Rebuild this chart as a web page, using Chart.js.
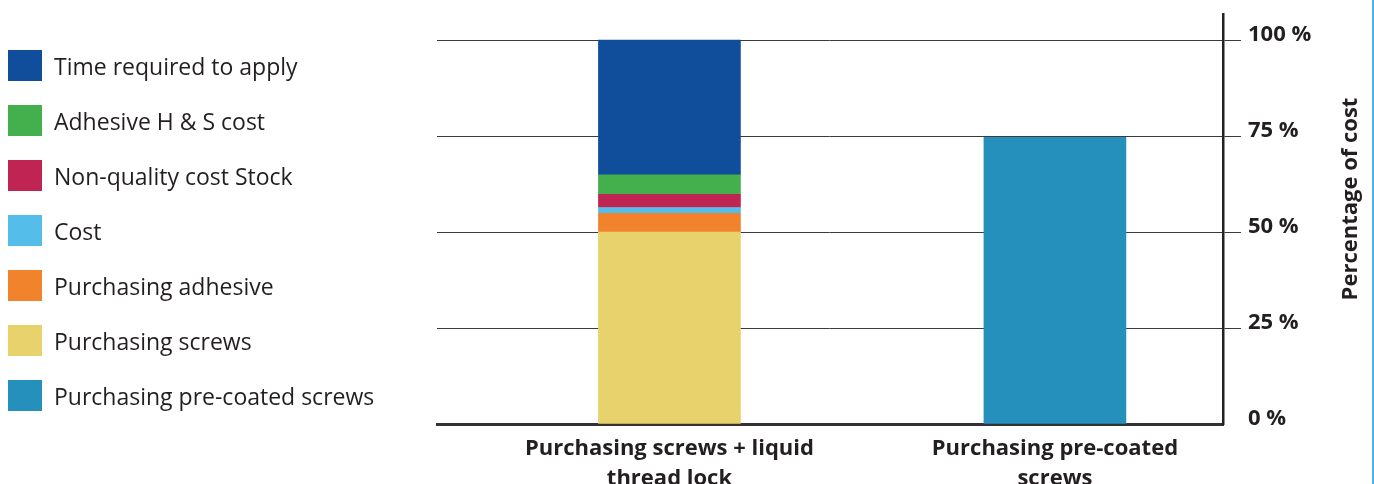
<!DOCTYPE html>
<html>
<head>
<meta charset="utf-8">
<title>Percentage of cost</title>
<script src="https://cdn.jsdelivr.net/npm/chart.js@4.4.1/dist/chart.umd.min.js"></script>
<style>
    html, body { margin: 0; padding: 0; background: #fff; }
    #wrap { position: relative; width: 1374px; height: 484px; overflow: hidden; }
    #chart { position: absolute; left: 0; top: 0; }
    #legend { position: absolute; left: 8px; top: 50px; margin: 0; padding: 0; list-style: none;
        font-family: 'Open Sans', sans-serif; font-size: 23px; color: #231f20; }
    #legend li { position: relative; height: 31px; line-height: 33px; margin-bottom: 24px;
        padding-left: 46px; white-space: nowrap; }
    #legend li span { position: absolute; left: 0; top: 0; width: 34px; height: 31px; }
    #edge { position: absolute; left: 1372px; top: 0; width: 2px; height: 484px; background: #4db3e2; }
</style>
</head>
<body>
<div id="wrap">
    <canvas id="chart" width="1374" height="484"></canvas>
    <ul id="legend"></ul>
    <div id="edge"></div>
</div>
<script>
    // data (percent of the liquid thread lock total)
    var categories = [['Purchasing screws + liquid', 'thread lock'], ['Purchasing pre-coated', 'screws']];
    var seriesNames = ['Purchasing screws', 'Purchasing adhesive', 'Cost', 'Non-quality cost Stock',
        'Adhesive H & S cost', 'Time required to apply', 'Purchasing pre-coated screws'];
    var purchasingScrews = [50, null];
    var purchasingAdhesive = [4.9, null];
    var cost = [1.5, null];
    var nonQualityStock = [3.4, null];
    var adhesiveHSCost = [5.1, null];
    var timeToApply = [35.1, null];
    var preCoatedScrews = [null, 74.7];
    var yTicks = [0, 25, 50, 75, 100];
    var axisTitle = 'Percentage of cost';

    var seriesValues = [purchasingScrews, purchasingAdhesive, cost, nonQualityStock,
        adhesiveHSCost, timeToApply, preCoatedScrews];
    var seriesColors = ['#e8d26b', '#f0832b', '#55bde9', '#c02452', '#44b04d', '#104e9c', '#2490bb'];
    var legendOrder = [5, 4, 3, 2, 1, 0, 6];
    var ink = '#231f20';

    Chart.defaults.font.family = "'Open Sans', sans-serif";
    Chart.defaults.color = ink;

    function toPoints(values) {
        var pts = [];
        for (var i = 0; i < values.length; i++) {
            if (values[i] !== null) pts.push({x: i, y: values[i]});
        }
        return pts;
    }

    var datasets = seriesNames.map(function (name, i) {
        return {
            label: name,
            data: toPoints(seriesValues[i]),
            backgroundColor: seriesColors[i],
            borderWidth: 0,
            barThickness: 142
        };
    });

    // axis title reads bottom to top, chart.js would turn it the other way on a right axis
    var sideTitle = {
        id: 'sideTitle',
        afterDraw: function (chart) {
            var ctx = chart.ctx, area = chart.chartArea;
            ctx.save();
            ctx.translate(chart.scales.y.right - 23, (area.top + area.bottom) / 2 - 20);
            ctx.rotate(-Math.PI / 2);
            ctx.font = "bold 22px 'Open Sans', sans-serif";
            ctx.fillStyle = ink;
            ctx.textAlign = 'center';
            ctx.textBaseline = 'middle';
            ctx.fillText(axisTitle, 0, 0);
            ctx.restore();
        }
    };

    function noEdgePadding(scale) {
        scale.paddingTop = 0;
        scale.paddingBottom = 0;
        scale.paddingLeft = 0;
        scale.paddingRight = 0;
    }

    var chart = new Chart(document.getElementById('chart'), {
        type: 'bar',
        data: { datasets: datasets },
        plugins: [sideTitle],
        options: {
            responsive: false,
            animation: false,
            layout: { padding: { left: 437, top: 14, right: 0, bottom: 0 } },
            plugins: { legend: { display: false }, tooltip: { enabled: false } },
            scales: {
                x: {
                    type: 'linear',
                    stacked: true,
                    offset: false,
                    min: -0.603,
                    max: 1.436,
                    afterBuildTicks: function (scale) {
                        scale.ticks = categories.map(function (c, i) { return {value: i}; });
                    },
                    afterFit: function (scale) {
                        scale.height = 60;
                        noEdgePadding(scale);
                    },
                    grid: { display: false, drawTicks: false },
                    border: { display: true, color: '#333', width: 3 },
                    ticks: {
                        autoSkip: false,
                        maxRotation: 0,
                        padding: 10,
                        color: ink,
                        font: { size: 22, weight: 'bold', lineHeight: 1.36 },
                        callback: function (v) { return categories[v]; }
                    }
                },
                y: {
                    position: 'right',
                    stacked: true,
                    min: 0,
                    max: 106.8,
                    afterBuildTicks: function (scale) {
                        scale.ticks = yTicks.map(function (v) { return {value: v}; });
                    },
                    afterFit: function (scale) {
                        scale.width = 151;
                        noEdgePadding(scale);
                    },
                    grid: {
                        color: '#3a3a3a',
                        lineWidth: 1,
                        tickLength: 18,
                        tickColor: function (c) { return c.tick && c.tick.value === 0 ? 'rgba(0,0,0,0)' : '#3a3a3a'; }
                    },
                    border: { display: true, color: '#222', width: 2.5 },
                    ticks: {
                        padding: 7,
                        labelOffset: -5,
                        color: ink,
                        font: { size: 22, weight: 'bold' },
                        callback: function (v) { return v + ' %'; }
                    }
                }
            }
        }
    });

    // legend in the order of the original picture
    var legend = document.getElementById('legend');
    legendOrder.forEach(function (i) {
        var li = document.createElement('li');
        var box = document.createElement('span');
        box.style.background = seriesColors[i];
        li.appendChild(box);
        li.appendChild(document.createTextNode(seriesNames[i]));
        legend.appendChild(li);
    });
</script>
</body>
</html>
